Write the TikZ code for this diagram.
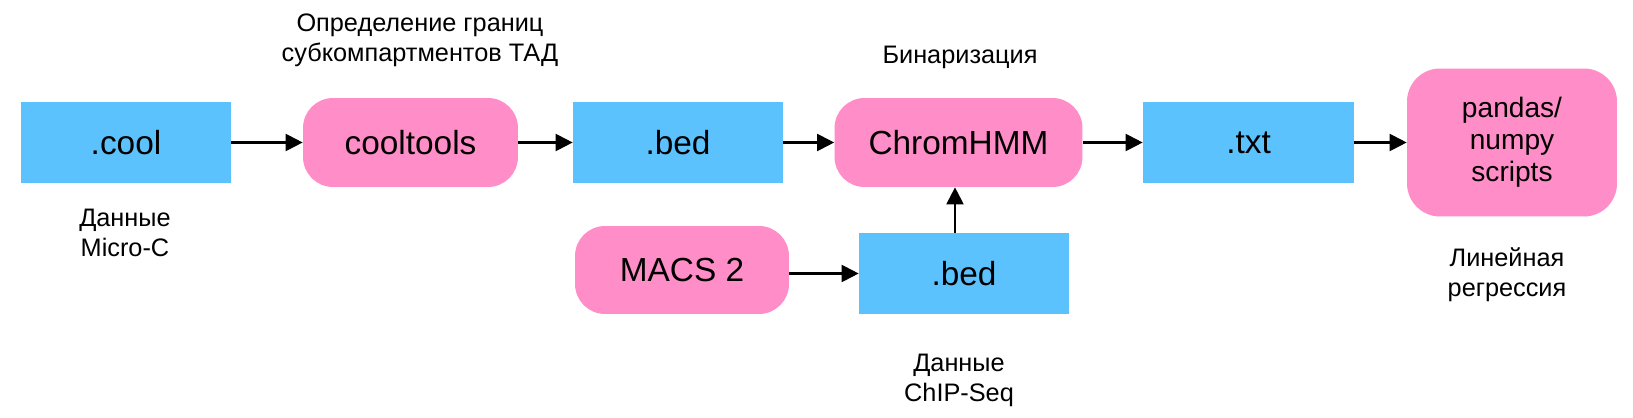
\documentclass[tikz,border=0pt]{standalone}
\usepackage{fontspec}
\setmainfont{Liberation Sans}
\usetikzlibrary{arrows.meta}
\definecolor{fileblue}{HTML}{5BC2FD}
\definecolor{toolpink}{HTML}{FF8DC7}

\begin{document}
\begin{tikzpicture}[x=0.02cm, y=-0.02cm, font=\fontsize{19}{23}\selectfont,
		filebox/.style={fill=fileblue, minimum width=4.2cm, minimum height=1.62cm, inner sep=0pt},
		toolbox/.style={fill=toolpink, rounded corners=0.6cm, minimum width=4.3cm, minimum height=1.78cm, inner sep=0pt, align=center},
		note/.style={font=\fontsize{14.4}{17}\selectfont, align=center},
		arr/.style={line width=1.15pt, -{Triangle[length=0.34cm,width=0.34cm]}}]
			\useasboundingbox (0,0) rectangle (1633,418);
			% upper row
			\node[filebox] (cool) at (126,142.5) {.cool};
			\node[toolbox] (cooltools) at (410.5,142.5) {cooltools};
			\node[filebox] (bedA) at (678,142.5) {.bed};
			\node[toolbox, minimum width=4.96cm] (chrom) at (958.5,142.5) {ChromHMM};
			\node[filebox, minimum width=4.22cm] (txt) at (1248.5,142.5) {.txt};
			\node[toolbox, minimum width=4.2cm, minimum height=2.96cm, rounded corners=0.66cm,
				font=\fontsize{16}{18.2}\selectfont] (pandas) at (1512,142.5) {pandas/\\numpy\\scripts};
			% lower row
			\node[toolbox, minimum width=4.28cm, minimum height=1.76cm] (macs) at (682,270) {MACS 2};
			\node[filebox] (bedB) at (964,273.5) {.bed};
			\draw[arr] (cool) -- (cooltools);
			\draw[arr] (cooltools) -- (bedA);
			\draw[arr] (bedA) -- (chrom);
			\draw[arr] (chrom) -- (txt);
			\draw[arr] (txt) -- (pandas);
			\draw[arr] (macs.east |- bedB) -- (bedB.west);
			\draw[arr] ([xshift=-0.18cm]bedB.north) -- ([xshift=-0.18cm]bedB.north |- chrom.south);
			% notes
			\node[note] (noteTAD) at (420,40) {Определение границ\\субкомпартментов ТАД};
			\node[note] (noteBin) at (960,57) {Бинаризация};
			\node[note] (noteMicro) at (125,233) {Данные\\Micro-C};
			\node[note] (noteChIP) at (959,380) {Данные\\ChIP-Seq};
			\node[note] (noteReg) at (1507,275) {Линейная\\регрессия};
		\end{tikzpicture}
\end{document}
